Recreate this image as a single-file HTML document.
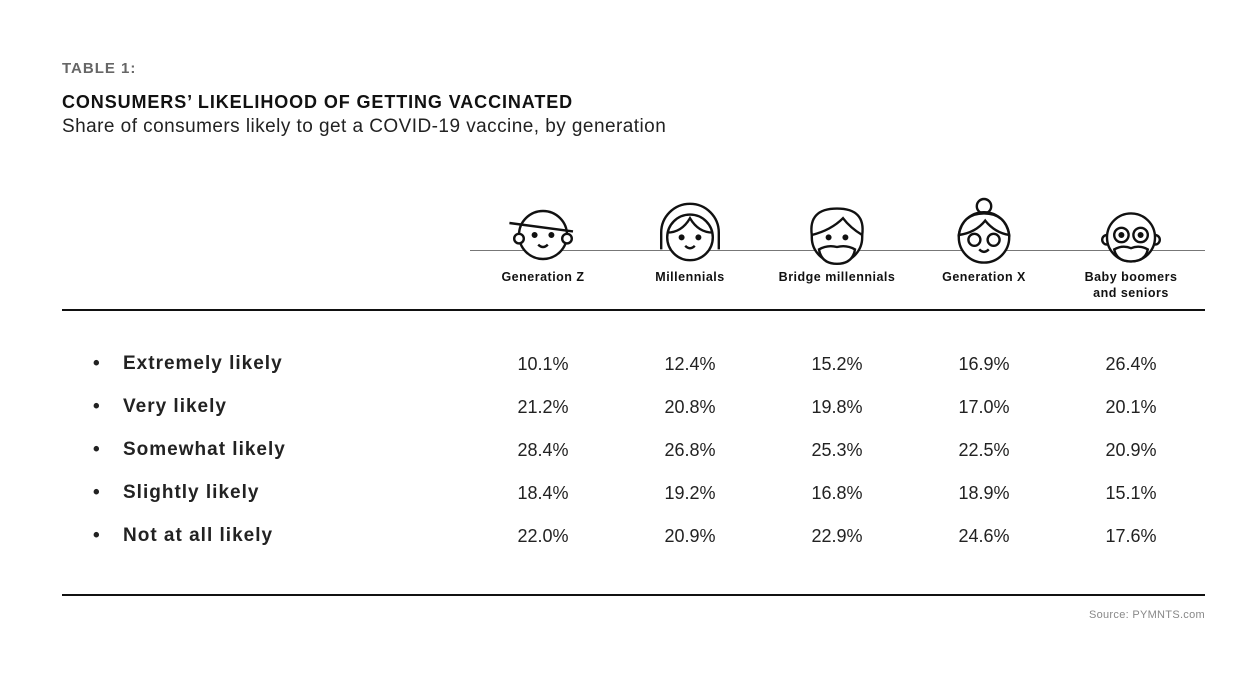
<!DOCTYPE html>
<html><head><meta charset="utf-8"><style>
body{margin:0;width:1244px;height:682px;background:#fff;font-family:"Liberation Sans",sans-serif;position:relative;overflow:hidden;color:#111}
.a{position:absolute;white-space:nowrap}
.c{transform:translateX(-50%);text-align:center}
.v{font-size:18px;color:#222}
.r{font-size:19px;font-weight:bold;color:#222;letter-spacing:1px}
.h{font-size:12.5px;font-weight:bold;line-height:16px;letter-spacing:0.5px}
</style></head><body>
<div class="a" style="left:62px;top:60px;font-size:15px;font-weight:bold;color:#666;letter-spacing:1px">TABLE 1:</div>
<div class="a" style="left:62px;top:92px;font-size:18px;font-weight:bold;letter-spacing:0.9px">CONSUMERS’ LIKELIHOOD OF GETTING VACCINATED</div>
<div class="a" style="left:62px;top:116px;font-size:19px;color:#222;letter-spacing:0.45px">Share of consumers likely to get a COVID-19 vaccine, by generation</div>
<div class="a" style="left:470px;top:250px;width:735px;height:1px;background:#777"></div>
<svg class="a" style="left:470px;top:196px" width="740" height="70" fill="#fff" stroke="#111" stroke-width="2">
<g transform="translate(73,39) scale(1.2)"><circle r="20"/><circle cx="-20" cy="3" r="4"/><circle cx="20" cy="3" r="4"/><line x1="-28" y1="-10" x2="25" y2="-3"/><circle cx="-7" cy="0" r="1.5" fill="#111"/><circle cx="7" cy="0" r="1.5" fill="#111"/><path d="M-4 8q4 4 8 0" fill="none"/></g>
<g transform="translate(220,39) scale(1.2)"><path d="M-24 12V-2a24 24 0 0 1 48 0V12"/><circle cx="0" cy="2" r="19"/><path d="M-19 -2q12 0 19 -12q7 12 19 12" fill="none"/><circle cx="-7" cy="2" r="1.5" fill="#111"/><circle cx="7" cy="2" r="1.5" fill="#111"/><path d="M-4 9q4 4 8 0" fill="none"/></g>
<g transform="translate(367,39) scale(1.2)"><circle cx="0" cy="2" r="21"/><path d="M-21 0q-3 -22 21 -22q24 0 21 22q-10 -6 -16 -14q-10 10 -26 14z"/><path d="M-15 12q2 12 15 12q13 0 15 -12q-7 -4 -15 -2q-8 -2 -15 2z" fill="#fff"/><circle cx="-7" cy="2" r="1.5" fill="#111"/><circle cx="7" cy="2" r="1.5" fill="#111"/></g>
<g transform="translate(514,39) scale(1.2)"><circle cx="0" cy="-24" r="6"/><circle cx="0" cy="2" r="21"/><path d="M-21 0q3 -18 21 -18q18 0 21 18q-12 -2 -20 -12q-8 10 -22 12z"/><circle cx="-8" cy="4" r="5"/><circle cx="8" cy="4" r="5"/><path d="M-4 12q4 4 8 0" fill="none"/></g>
<g transform="translate(661,39) scale(1.2)"><circle cx="-20" cy="4" r="4"/><circle cx="20" cy="4" r="4"/><circle cx="0" cy="2" r="20"/><circle cx="-8" cy="0" r="6"/><circle cx="8" cy="0" r="6"/><circle cx="-8" cy="0" r="1.5" fill="#111"/><circle cx="8" cy="0" r="1.5" fill="#111"/><path d="M-14 12q2 10 14 10q12 0 14 -10q-7 -4 -14 -1q-7 -3 -14 1z"/></g>
</svg>
<div class="a c h" style="left:543px;top:269px">Generation Z</div>
<div class="a c h" style="left:690px;top:269px">Millennials</div>
<div class="a c h" style="left:837px;top:269px">Bridge millennials</div>
<div class="a c h" style="left:984px;top:269px">Generation X</div>
<div class="a c h" style="left:1131px;top:269px">Baby boomers<br>and seniors</div>
<div class="a" style="left:62px;top:309px;width:1143px;height:2px;background:#111"></div>
<div class="a" style="left:62px;top:594px;width:1143px;height:2px;background:#111"></div>
<div class="a" style="right:39px;top:609px;font-size:11px;color:#888;letter-spacing:0.3px">Source: PYMNTS.com</div>
<div class="a r" style="left:93px;top:353px">•</div><div class="a r" style="left:123px;top:353px">Extremely likely</div>
<div class="a r" style="left:93px;top:396px">•</div><div class="a r" style="left:123px;top:396px">Very likely</div>
<div class="a r" style="left:93px;top:439px">•</div><div class="a r" style="left:123px;top:439px">Somewhat likely</div>
<div class="a r" style="left:93px;top:482px">•</div><div class="a r" style="left:123px;top:482px">Slightly likely</div>
<div class="a r" style="left:93px;top:525px">•</div><div class="a r" style="left:123px;top:525px">Not at all likely</div>
<div class="a c v" style="left:543px;top:354px">10.1%</div><div class="a c v" style="left:690px;top:354px">12.4%</div><div class="a c v" style="left:837px;top:354px">15.2%</div><div class="a c v" style="left:984px;top:354px">16.9%</div><div class="a c v" style="left:1131px;top:354px">26.4%</div>
<div class="a c v" style="left:543px;top:397px">21.2%</div><div class="a c v" style="left:690px;top:397px">20.8%</div><div class="a c v" style="left:837px;top:397px">19.8%</div><div class="a c v" style="left:984px;top:397px">17.0%</div><div class="a c v" style="left:1131px;top:397px">20.1%</div>
<div class="a c v" style="left:543px;top:440px">28.4%</div><div class="a c v" style="left:690px;top:440px">26.8%</div><div class="a c v" style="left:837px;top:440px">25.3%</div><div class="a c v" style="left:984px;top:440px">22.5%</div><div class="a c v" style="left:1131px;top:440px">20.9%</div>
<div class="a c v" style="left:543px;top:483px">18.4%</div><div class="a c v" style="left:690px;top:483px">19.2%</div><div class="a c v" style="left:837px;top:483px">16.8%</div><div class="a c v" style="left:984px;top:483px">18.9%</div><div class="a c v" style="left:1131px;top:483px">15.1%</div>
<div class="a c v" style="left:543px;top:526px">22.0%</div><div class="a c v" style="left:690px;top:526px">20.9%</div><div class="a c v" style="left:837px;top:526px">22.9%</div><div class="a c v" style="left:984px;top:526px">24.6%</div><div class="a c v" style="left:1131px;top:526px">17.6%</div>
</body></html>
